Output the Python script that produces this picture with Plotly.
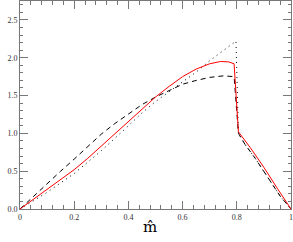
import plotly.graph_objects as go

# Red solid curve
red_x = [0, 0.05, 0.1, 0.15, 0.2, 0.25, 0.3, 0.35, 0.4, 0.45, 0.5, 0.55, 0.6, 0.65, 0.7, 0.74, 0.77, 0.79, 0.806, 0.85, 0.9, 0.95, 1.0]
red_y = [0, 0.13, 0.26, 0.39, 0.52, 0.67, 0.83, 0.99, 1.15, 1.32, 1.48, 1.62, 1.75, 1.85, 1.92, 1.95, 1.945, 1.92, 1.02, 0.81, 0.55, 0.27, 0.0]

# Black dashed curve
dash_x = [0, 0.05, 0.1, 0.15, 0.2, 0.25, 0.3, 0.35, 0.4, 0.45, 0.5, 0.55, 0.6, 0.65, 0.7, 0.75, 0.79, 0.806, 0.831, 0.868, 0.917, 0.96, 1.0]
dash_y = [0, 0.17, 0.34, 0.5, 0.66, 0.82, 0.99, 1.13, 1.26, 1.38, 1.48, 1.56, 1.65, 1.70, 1.74, 1.76, 1.75, 1.0, 0.85, 0.67, 0.41, 0.17, 0.0]

# Black dotted curve
dot_x = [0, 0.1, 0.2, 0.3, 0.4, 0.45, 0.5, 0.55, 0.6, 0.65, 0.7, 0.75, 0.79, 0.797, 0.806, 0.831, 0.868, 0.917, 0.96, 1.0]
dot_y = [0, 0.22, 0.47, 0.77, 1.10, 1.27, 1.42, 1.55, 1.68, 1.81, 1.96, 2.10, 2.20, 2.22, 1.0, 0.85, 0.67, 0.41, 0.17, 0.0]

x_tickvals = [0, 0.2, 0.4, 0.6, 0.8, 1]
x_ticktext = ["0", "0.2", "0.4", "0.6", "0.8", "1"]
y_tickvals = [0, 0.5, 1.0, 1.5, 2.0, 2.5]
y_ticktext = ["0.0", "0.5", "1.0", "1.5", "2.0", "2.5"]

fig = go.Figure()
fig.add_trace(go.Scatter(x=dot_x, y=dot_y, mode="lines",
                         line=dict(color="black", width=1, dash="1px,4px")))
fig.add_trace(go.Scatter(x=dash_x, y=dash_y, mode="lines",
                         line=dict(color="black", width=1, dash="5px,4px")))
fig.add_trace(go.Scatter(x=red_x, y=red_y, mode="lines",
                         line=dict(color="#ff0000", width=1)))

axis_common = dict(
    showline=True, linecolor="#777", linewidth=1, mirror="ticks",
    ticks="inside", ticklen=8, tickcolor="#777", tickwidth=1,
    showgrid=False, zeroline=False, automargin=False,
    tickfont=dict(family="Liberation Serif", size=8, color="#333"),
)

fig.update_xaxes(range=[0, 1], tickvals=x_tickvals, ticktext=x_ticktext,
                 minor=dict(dtick=0.04, ticklen=4, tickcolor="#777", ticks="inside"),
                 **axis_common)
fig.update_yaxes(range=[0, 2.75], tickvals=y_tickvals, ticktext=y_ticktext,
                 minor=dict(dtick=0.1, ticklen=3, tickcolor="#777", ticks="inside"),
                 **axis_common)

fig.add_annotation(text="m\u0302", xref="paper", yref="paper", x=0.48, y=-0.035,
                   xanchor="center", yanchor="top", showarrow=False,
                   font=dict(family="DejaVu Serif", size=15, color="black"))

fig.update_layout(
    width=293, height=242,
    margin=dict(l=20, r=2, t=1, b=33),
    paper_bgcolor="white", plot_bgcolor="white",
    showlegend=False,
)

fig.write_html("out.html", config={"displayModeBar": False},
               post_script="document.body.style.margin='0';")
